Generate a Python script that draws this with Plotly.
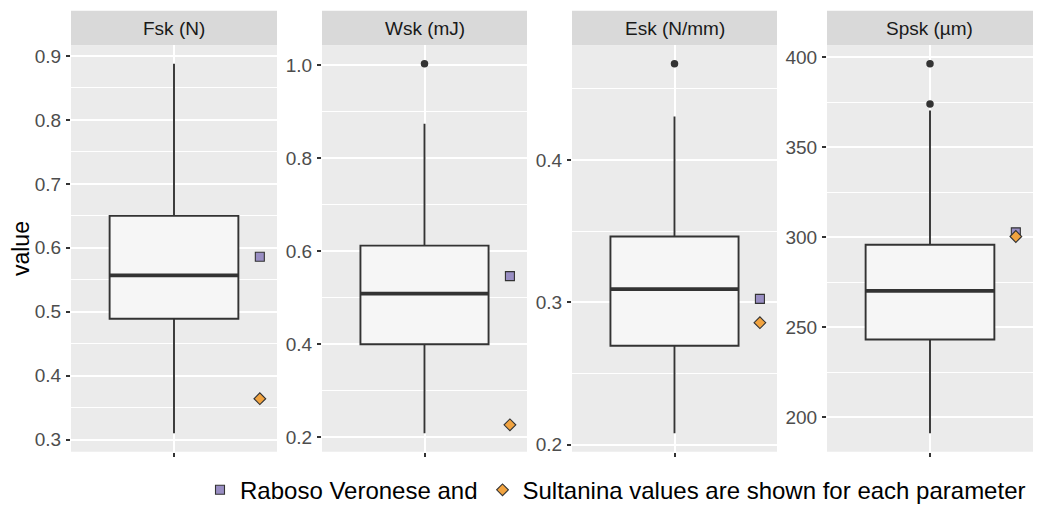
import plotly.graph_objects as go

# Texture parameters, one box per facet
panels = ["Fsk (N)", "Wsk (mJ)", "Esk (N/mm)", "Spsk (µm)"]
q1 = [0.489, 0.400, 0.2695, 243.2]
median = [0.557, 0.509, 0.3093, 270.2]
q3 = [0.650, 0.612, 0.3462, 295.8]
lower_whisker = [0.310, 0.2085, 0.2081, 191.1]
upper_whisker = [0.8877, 0.874, 0.4305, 370.4]
outliers = [[], [1.003], [0.4674], [396.3, 374.0]]

# Reference cultivar values
raboso = [0.586, 0.5465, 0.3024, 302.7]
sultanina = [0.364, 0.2268, 0.2857, 300.4]

# Axis ticks per facet
major_step = [0.1, 0.2, 0.1, 50]
tick_format = [".1f", ".1f", ".1f", "d"]

W, H = 1038, 513
panel_px = [(71, 277), (322, 527), (572, 777), (827, 1033)]
top_px, bottom_px, strip_top_px = 46, 458, 11
y_dom = [(H - bottom_px) / H, (H - top_px) / H]
strip_dom = [(H - top_px) / H, (H - strip_top_px) / H]

BOX_X = 1.0
BOX_W = 0.75
POINT_X = 1.5
DARK = "#333333"
FONT = "Liberation Sans, Arial, sans-serif"

fig = go.Figure()

for i, name in enumerate(panels):
    xa = "x" if i == 0 else f"x{i + 1}"
    ya = "y" if i == 0 else f"y{i + 1}"

    fig.add_trace(go.Box(
        x=[BOX_X], q1=[q1[i]], median=[median[i]], q3=[q3[i]],
        lowerfence=[lower_whisker[i]], upperfence=[upper_whisker[i]],
        width=BOX_W, whiskerwidth=0, boxpoints=False,
        fillcolor="#F6F6F6", line=dict(color=DARK, width=1.9),
        xaxis=xa, yaxis=ya, showlegend=False, hoverinfo="skip",
    ))
    # thicker median bar
    fig.add_trace(go.Scatter(
        x=[BOX_X - BOX_W / 2, BOX_X + BOX_W / 2], y=[median[i], median[i]],
        mode="lines", line=dict(color=DARK, width=3.8),
        xaxis=xa, yaxis=ya, showlegend=False, hoverinfo="skip",
    ))
    if outliers[i]:
        fig.add_trace(go.Scatter(
            x=[BOX_X] * len(outliers[i]), y=outliers[i], mode="markers",
            marker=dict(color=DARK, size=7.5, symbol="circle"),
            xaxis=xa, yaxis=ya, showlegend=False, hoverinfo="skip",
        ))
    fig.add_trace(go.Scatter(
        x=[POINT_X], y=[raboso[i]], mode="markers",
        marker=dict(symbol="square", size=9, color="#998EC3",
                    line=dict(color=DARK, width=1.1)),
        name="Raboso Veronese and", legendgroup="rab", showlegend=(i == 0),
        xaxis=xa, yaxis=ya,
    ))
    fig.add_trace(go.Scatter(
        x=[POINT_X], y=[sultanina[i]], mode="markers",
        marker=dict(symbol="diamond", size=9, color="#F1A340",
                    line=dict(color=DARK, width=1.1)),
        name="Sultanina values are shown for each parameter",
        legendgroup="sul", showlegend=(i == 0),
        xaxis=xa, yaxis=ya,
    ))

    # y range: data extent plus 5% padding each side
    vals = [q1[i], median[i], q3[i], lower_whisker[i], upper_whisker[i],
            raboso[i], sultanina[i]] + outliers[i]
    lo, hi = min(vals), max(vals)
    pad = (hi - lo) * 0.05
    x0, x1 = panel_px[i]
    xdom = [x0 / W, x1 / W]

    fig.layout[f"xaxis{'' if i == 0 else i + 1}"] = dict(
        domain=xdom, range=[0.4, 1.6], anchor=ya,
        tickvals=[BOX_X], ticktext=[""], ticks="outside", ticklen=4,
        tickwidth=1.6, tickcolor=DARK,
        showgrid=True, gridcolor="white", gridwidth=1.6,
        zeroline=False, showline=False, fixedrange=True,
    )
    fig.layout[f"yaxis{'' if i == 0 else i + 1}"] = dict(
        domain=y_dom, range=[lo - pad, hi + pad], anchor=xa,
        tick0=0, dtick=major_step[i], tickformat=tick_format[i],
        ticks="outside", ticklen=4, tickwidth=1.6, tickcolor=DARK,
        ticklabelstandoff=1,
        tickfont=dict(family=FONT, size=19, color="#4D4D4D"),
        showgrid=True, gridcolor="white", gridwidth=1.6,
        minor=dict(dtick=major_step[i] / 2, tick0=0, showgrid=True,
                   gridcolor="white", gridwidth=0.8, ticks=""),
        zeroline=False, showline=False, fixedrange=True,
    )

    # facet strip
    fig.add_shape(type="rect", xref="paper", yref="paper",
                  x0=xdom[0], x1=xdom[1], y0=strip_dom[0], y1=strip_dom[1],
                  fillcolor="#D9D9D9", line=dict(width=0), layer="below")
    fig.add_annotation(text=name, xref="paper", yref="paper",
                       x=(xdom[0] + xdom[1]) / 2, y=(strip_dom[0] + strip_dom[1]) / 2,
                       showarrow=False, xanchor="center", yanchor="middle",
                       font=dict(family=FONT, size=19, color="#1A1A1A"))

fig.add_annotation(text="value", xref="paper", yref="paper",
                   x=20.5 / W, y=(y_dom[0] + y_dom[1]) / 2, textangle=-90,
                   showarrow=False, xanchor="center", yanchor="middle",
                   font=dict(family=FONT, size=23, color="black"))

fig.update_layout(
    width=W, height=H,
    margin=dict(l=0, r=0, t=0, b=0),
    paper_bgcolor="white", plot_bgcolor="#EBEBEB",
    font=dict(family=FONT),
    showlegend=True,
    legend=dict(orientation="h", x=200 / W, xanchor="left",
                y=(H - 497) / H, yanchor="middle",
                font=dict(family=FONT, size=24, color="black"),
                bgcolor="rgba(0,0,0,0)", itemclick=False),
)

fig.write_html("out.html")
